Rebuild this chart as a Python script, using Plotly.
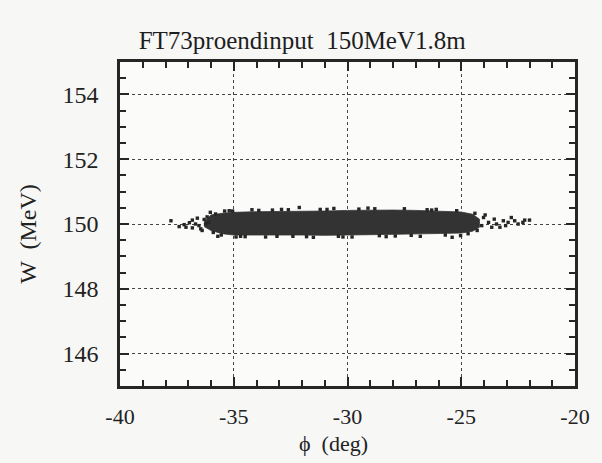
import plotly.graph_objects as go

# ---- data ----
x_tickvals = [-40, -35, -30, -25, -20]
x_ticktext = ["-40", "-35", "-30", "-25", "-20"]
y_tickvals = [146, 148, 150, 152, 154]
y_ticktext = ["146", "148", "150", "152", "154"]

# dense core envelope of the particle cloud
env_phi = [-36.3, -36.0, -35.5, -35.0, -34.0, -33.0, -32.0, -31.0, -30.0,
           -29.0, -28.0, -27.0, -26.0, -25.0, -24.5, -24.2]
env_w_hi = [150.08, 150.28, 150.33, 150.36, 150.38, 150.38, 150.40, 150.40, 150.42,
            150.43, 150.43, 150.42, 150.40, 150.37, 150.30, 150.15]
env_w_lo = [149.92, 149.80, 149.70, 149.66, 149.65, 149.66, 149.66, 149.65, 149.65,
            149.67, 149.68, 149.68, 149.70, 149.72, 149.78, 149.90]

# sparse particles in the tails and along the edges
pt_phi = [-37.76, -37.4, -37.18, -37.1, -36.82, -36.82, -36.68, -36.53, -36.39,
          -36.24, -36.17, -36.1, -36.03, -35.7, -35.4, -34.9, -34.2, -33.6,
          -32.9, -32.12, -31.5, -30.6, -29.8, -29.1, -28.3, -27.5, -26.8,
          -26.1, -25.4, -25.03, -24.02, -23.8, -23.66, -23.45, -23.3, -23.15,
          -22.94, -22.8, -22.65, -22.5, -22.29, -22.21, -22.0,
          -35.2, -34.5, -33.3, -32.4, -31.2, -30.2, -28.8, -27.9, -26.5, -25.7,
          -36.95, -36.6, -36.45, -36.3, -35.9, -35.8, -35.55, -35.05, -34.7,
          -33.9, -33.1, -32.6, -31.8, -30.9, -30.4, -29.5, -28.6, -27.2,
          -26.3, -25.2, -24.7, -24.4, -24.3, -24.1, -23.95, -23.55, -23.05]
pt_w = [150.10, 149.92, 149.98, 149.90, 150.12, 149.88, 150.00, 149.95, 149.80,
        150.00, 150.22, 150.05, 150.36, 149.62, 150.40, 149.60, 150.44, 149.60,
        150.45, 150.51, 149.59, 150.48, 149.60, 150.49, 149.61, 150.47, 149.62,
        150.45, 149.59, 149.64, 150.20, 150.05, 149.90, 150.00, 149.90, 150.10,
        150.05, 150.20, 150.10, 150.00, 150.05, 150.12, 150.12,
        150.41, 149.61, 150.43, 149.62, 150.45, 149.60, 150.47, 149.63, 150.44, 149.66,
        150.04, 150.18, 149.85, 150.14, 149.74, 150.31, 149.66, 150.40, 149.62,
        150.42, 149.62, 150.44, 149.61, 150.45, 149.62, 150.46, 149.64, 149.65,
        150.43, 150.41, 149.70, 150.33, 149.80, 149.95, 150.28, 150.15, 149.95]

INK = "#262626"
FONT = "Liberation Serif"

fig = go.Figure()
fig.add_trace(go.Scatter(
    x=env_phi + env_phi[::-1],
    y=env_w_hi + env_w_lo[::-1],
    mode="lines", fill="toself", fillcolor="#333333",
    line=dict(color="#333333", width=0.8),
    hoverinfo="skip", showlegend=False))
fig.add_trace(go.Scatter(
    x=pt_phi, y=pt_w, mode="markers",
    marker=dict(color=INK, size=3.4, symbol="square"),
    showlegend=False))

axis_common = dict(
    showline=True, linecolor=INK, linewidth=2.5, mirror="allticks",
    ticks="inside", ticklen=9, tickwidth=2, tickcolor=INK,
    showgrid=True, gridcolor="#444444", griddash="dot", gridwidth=1,
    zeroline=False,
)

fig.update_xaxes(range=[-40, -20], tickmode="array", tickvals=x_tickvals,
                 ticktext=x_ticktext, ticklabelstandoff=9,
                 tickfont=dict(family=FONT, size=22, color="#222222"),
                 minor=dict(ticks="inside", ticklen=6, tickwidth=2, dtick=1,
                            tickcolor=INK, showgrid=False),
                 **axis_common)
fig.update_yaxes(range=[145, 155], tickmode="array", tickvals=y_tickvals,
                 ticktext=y_ticktext, ticklabelstandoff=14,
                 tickfont=dict(family=FONT, size=24, color="#222222"),
                 minor=dict(ticks="inside", ticklen=6, tickwidth=2, dtick=0.5,
                            tickcolor=INK, showgrid=False),
                 **axis_common)

fig.update_layout(
    width=602, height=463,
    margin=dict(l=120, r=21, t=62, b=77),
    paper_bgcolor="#f7f7f5", plot_bgcolor="#fbfbfa",
    title=dict(text="FT73proendinput  150MeV1.8m", x=0.502, xanchor="center",
               y=1 - 40 / 463, yanchor="middle",
               font=dict(family=FONT, size=25, color="#1e1e1e")),
    annotations=[
        dict(text="\u03d5  (deg)", xref="paper", yref="paper", x=0.47, y=-0.176,
             xanchor="center", yanchor="middle", showarrow=False,
             font=dict(family=FONT, size=22, color="#222222")),
        dict(text="W  (MeV)", xref="paper", yref="paper", x=-0.202, y=0.47,
             textangle=-90, xanchor="center", yanchor="middle", showarrow=False,
             font=dict(family=FONT, size=24, color="#222222")),
    ],
)

fig.write_html("out.html")
